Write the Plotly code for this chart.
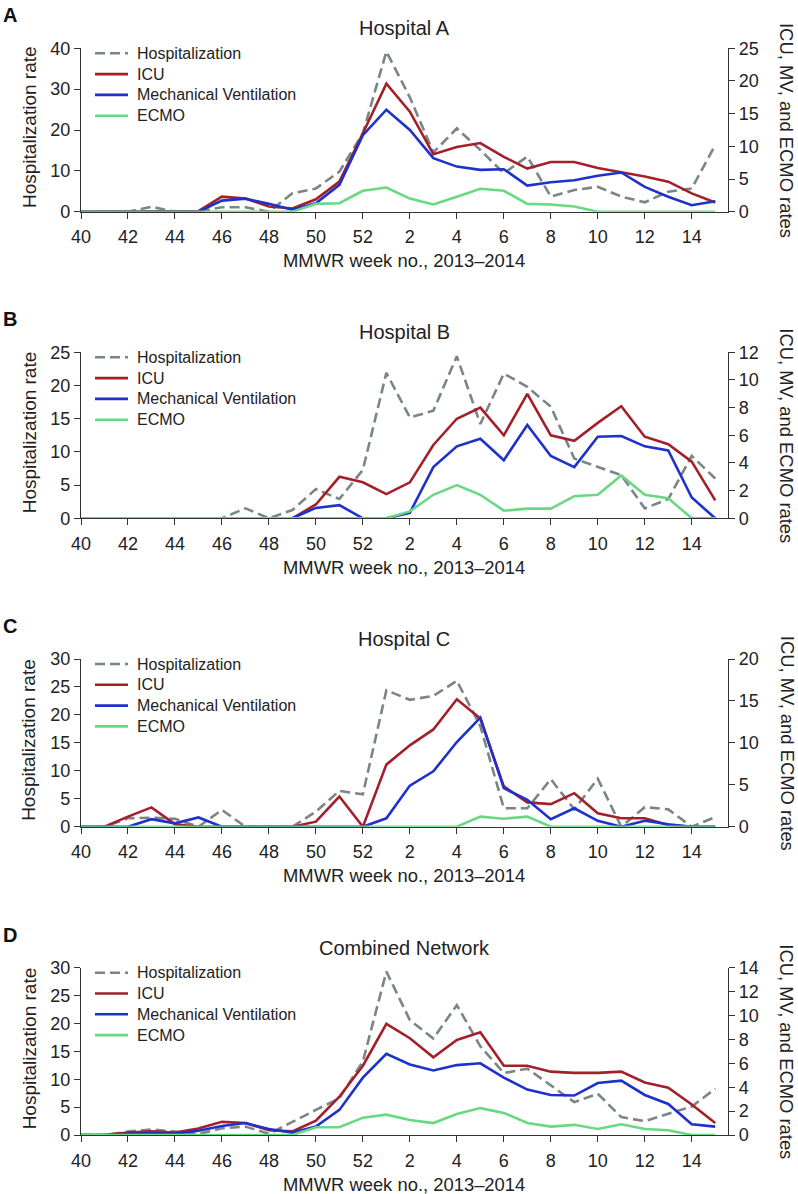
import plotly.graph_objects as go

W, H = 798, 1194

# ---------------- data ----------------
weeks = [40, 41, 42, 43, 44, 45, 46, 47, 48, 49, 50, 51, 52,
         1, 2, 3, 4, 5, 6, 7, 8, 9, 10, 11, 12, 13, 14, 15]
tick_labels = [str(w) for w in weeks[::2]]
series_names = ["Hospitalization", "ICU", "Mechanical Ventilation", "ECMO"]
panel_titles = ["Hospital A", "Hospital B", "Hospital C", "Combined Network"]
panel_letters = ["A", "B", "C", "D"]

hosp_A = [0, 0, 0, 1.2, 0, 0, 1.1, 1.1, 0, 4.5, 5.7, 9.8, 19.2, 39.2, 28, 14.5, 20.4, 15.1, 9.4, 13.5, 3.7, 5.3, 6.1, 3.7, 2.3, 4.9, 5.7, 16.3]
icu_A = [0, 0, 0, 0, 0, 0.1, 2.3, 2.0, 0.8, 0.5, 1.9, 4.6, 12.0, 19.6, 15.3, 8.8, 9.9, 10.5, 8.4, 6.6, 7.6, 7.6, 6.7, 6.1, 5.4, 4.6, 2.8, 1.4]
mv_A = [0, 0, 0, 0, 0, 0, 1.7, 2.0, 1.2, 0.3, 1.3, 4.1, 11.7, 15.6, 12.5, 8.2, 6.9, 6.4, 6.5, 4.0, 4.5, 4.8, 5.5, 6.0, 3.8, 2.3, 1.0, 1.6]
ecmo_A = [0, 0, 0, 0, 0, 0, 0, 0, 0, 0, 1.2, 1.3, 3.2, 3.7, 2.0, 1.1, 2.3, 3.5, 3.2, 1.2, 1.1, 0.8, 0, 0, 0, 0, 0, 0]

hosp_B = [0, 0, 0, 0, 0, 0, 0, 1.5, 0, 1.25, 4.4, 2.9, 7.3, 21.9, 15.2, 16.2, 24.4, 14.2, 21.8, 19.8, 16.8, 9.0, 7.8, 6.5, 1.5, 2.9, 9.4, 6.0]
icu_B = [0, 0, 0, 0, 0, 0, 0, 0, 0, 0, 1.0, 3.0, 2.6, 1.75, 2.6, 5.3, 7.2, 8.0, 6.0, 9.0, 6.0, 5.6, 6.9, 8.1, 5.9, 5.35, 4.1, 1.3]
mv_B = [0, 0, 0, 0, 0, 0, 0, 0, 0, 0, 0.75, 0.95, 0, 0, 0.4, 3.7, 5.2, 5.75, 4.2, 6.75, 4.5, 3.7, 5.9, 5.95, 5.2, 4.9, 1.5, 0]
ecmo_B = [0, 0, 0, 0, 0, 0, 0, 0, 0, 0, 0, 0, 0, 0, 0.5, 1.7, 2.4, 1.7, 0.55, 0.7, 0.7, 1.6, 1.7, 3.1, 1.7, 1.45, 0, 0]

hosp_C = [0, 0, 1.5, 1.6, 1.4, 0, 3.0, 0, 0, 0, 2.7, 6.4, 5.8, 24.4, 22.7, 23.4, 26.1, 18.0, 3.3, 3.3, 8.5, 3.1, 8.6, 0, 3.5, 3.1, 0, 1.7]
icu_C = [0, 0, 1.2, 2.3, 0.3, 0, 0, 0, 0, 0, 0.6, 3.6, 0, 7.4, 9.7, 11.6, 15.2, 12.9, 4.8, 2.9, 2.7, 4.0, 1.6, 1.0, 1.0, 0.2, 0, 0]
mv_C = [0, 0, 0, 0.9, 0.4, 1.1, 0, 0, 0, 0, 0, 0, 0, 1.0, 4.9, 6.6, 10.1, 13.0, 4.6, 3.2, 0.9, 2.2, 0.7, 0, 0.7, 0.3, 0, 0]
ecmo_C = [0, 0, 0, 0, 0, 0, 0, 0, 0, 0, 0, 0, 0, 0, 0, 0, 0, 1.2, 0.95, 1.2, 0, 0, 0, 0, 0, 0, 0, 0]

hosp_D = [0, 0, 0.6, 1.0, 0.6, 0.2, 1.2, 1.5, 0.2, 2.4, 4.5, 6.6, 13.2, 29.3, 20.6, 17.3, 23.3, 15.9, 11.1, 11.9, 8.9, 5.9, 7.4, 3.2, 2.5, 3.8, 5.1, 8.3]
icu_D = [0, 0, 0.2, 0.3, 0.2, 0.55, 1.1, 1.0, 0.4, 0.3, 1.2, 3.2, 5.8, 9.3, 8.1, 6.5, 7.95, 8.6, 5.8, 5.8, 5.3, 5.2, 5.2, 5.3, 4.4, 3.95, 2.55, 1.0]
mv_D = [0, 0, 0.1, 0.15, 0.1, 0.35, 0.75, 1.0, 0.5, 0.2, 0.7, 2.1, 4.8, 6.8, 5.9, 5.4, 5.85, 6.0, 4.8, 3.8, 3.35, 3.3, 4.35, 4.55, 3.35, 2.6, 0.9, 0.7]
ecmo_D = [0, 0, 0, 0, 0, 0, 0, 0, 0, 0, 0.65, 0.65, 1.45, 1.7, 1.25, 1.0, 1.75, 2.25, 1.85, 1.0, 0.7, 0.85, 0.5, 0.9, 0.5, 0.4, 0, 0]

left_ranges = [40, 25, 30, 30]
left_dticks = [10, 5, 5, 5]
right_ranges = [25, 12, 20, 14]
right_dticks = [5, 2, 5, 2]

panels = [
    (hosp_A, icu_A, mv_A, ecmo_A),
    (hosp_B, icu_B, mv_B, ecmo_B),
    (hosp_C, icu_C, mv_C, ecmo_C),
    (hosp_D, icu_D, mv_D, ecmo_D),
]

# ---------------- style / layout ----------------
FONT = "Liberation Sans, Arial, Helvetica, sans-serif"
TXT = "#222222"
colors = ["#7a8686", "#a3202a", "#1d31cc", "#68d981"]
dashes = ["10px,5px", "solid", "solid", "solid"]
AX = "#333333"
LW = 2.6

# pixel geometry: (top, bottom) of each plot area
panel_px = [(48.3, 211.7), (352.3, 518.3), (659.0, 826.7), (967.7, 1135.0)]
x_left_px, x_right_px = 81.0, 728.0
px_per_week = 23.49
x_max = (x_right_px - x_left_px) / px_per_week
legend_row_px = [5.0, 25.8, 46.6, 67.4]   # offsets below plot top
legend_line_px = (95.0, 128.0)
legend_text_px = 135.0


def fx(px):
    return px / W


def fy(px):
    return 1 - px / H


def paper_text(text, x, y, size, xanchor="center", angle=0, color=TXT):
    return dict(text=text, x=fx(x), y=fy(y), xref="paper", yref="paper",
                xanchor=xanchor, yanchor="middle", textangle=angle,
                showarrow=False, font=dict(size=size, color=color, family=FONT))


x_pos = list(range(len(weeks)))
fig = go.Figure()
layout = dict(
    width=W, height=H,
    margin=dict(l=0, r=0, t=0, b=0, autoexpand=False),
    paper_bgcolor="white", plot_bgcolor="white",
    font=dict(family=FONT, size=18, color=TXT),
    showlegend=False,
)
annotations = []
shapes = []

for k, series in enumerate(panels):
    xname = "x" if k == 0 else f"x{k+1}"
    yl = "y" if k == 0 else f"y{k+1}"
    yr = f"y{k+5}"
    top, bot = panel_px[k]

    for j, vals in enumerate(series):
        fig.add_trace(go.Scatter(
            x=x_pos, y=vals, mode="lines", name=series_names[j],
            line=dict(color=colors[j], width=LW, dash=dashes[j]),
            xaxis=xname, yaxis=(yl if j == 0 else yr),
            hoverinfo="skip",
        ))

    xkey = "xaxis" if k == 0 else f"xaxis{k+1}"
    ylkey = "yaxis" if k == 0 else f"yaxis{k+1}"
    yrkey = f"yaxis{k+5}"

    common = dict(showline=True, linecolor=AX, linewidth=1.2,
                  ticks="outside", ticklen=6, tickcolor=AX, tickwidth=1.2,
                  showgrid=False, zeroline=False, fixedrange=True,
                  tickfont=dict(size=18, color=TXT, family=FONT))
    layout[xkey] = dict(
        domain=[fx(x_left_px), fx(x_right_px)], anchor=yl,
        range=[0, x_max], tickmode="array",
        tickvals=x_pos[::2], ticktext=tick_labels,
        ticklabelstandoff=3, **common)
    layout[ylkey] = dict(
        domain=[fy(bot), fy(top)], anchor=xname,
        range=[0, left_ranges[k]], dtick=left_dticks[k], tick0=0,
        ticklabelstandoff=0, **common)
    layout[yrkey] = dict(
        overlaying=yl, side="right", anchor=xname,
        range=[0, right_ranges[k]], dtick=right_dticks[k], tick0=0,
        ticklabelstandoff=0, **common)

    # legend (key lines + labels) in the upper-left corner of each panel
    for j, name in enumerate(series_names):
        yrow = top + legend_row_px[j]
        shapes.append(dict(
            type="line", xref="paper", yref="paper",
            x0=fx(legend_line_px[0]), x1=fx(legend_line_px[1]),
            y0=fy(yrow), y1=fy(yrow),
            line=dict(color=colors[j], width=LW, dash=dashes[j])))
        annotations.append(paper_text(name, legend_text_px, yrow, 16, xanchor="left"))

    mid = (top + bot) / 2
    annotations += [
        paper_text(f"<b>{panel_letters[k]}</b>", 1, top - 33, 20, xanchor="left", color="#111111"),
        paper_text(panel_titles[k], 404.5, top - 20, 20),
        paper_text("MMWR week no., 2013\u20132014", 404, bot + 49, 18.4),
        paper_text("Hospitalization rate", 29, mid - 3, 19, angle=-90),
        paper_text("ICU, MV, and ECMO rates", 787, mid, 18.4, angle=90),
    ]

layout["annotations"] = annotations
layout["shapes"] = shapes
fig.update_layout(**layout)
fig.write_html(
    "out.html", include_plotlyjs=True, config={"displayModeBar": False},
    post_script="document.body.style.margin='0';document.body.style.overflow='hidden';",
)
